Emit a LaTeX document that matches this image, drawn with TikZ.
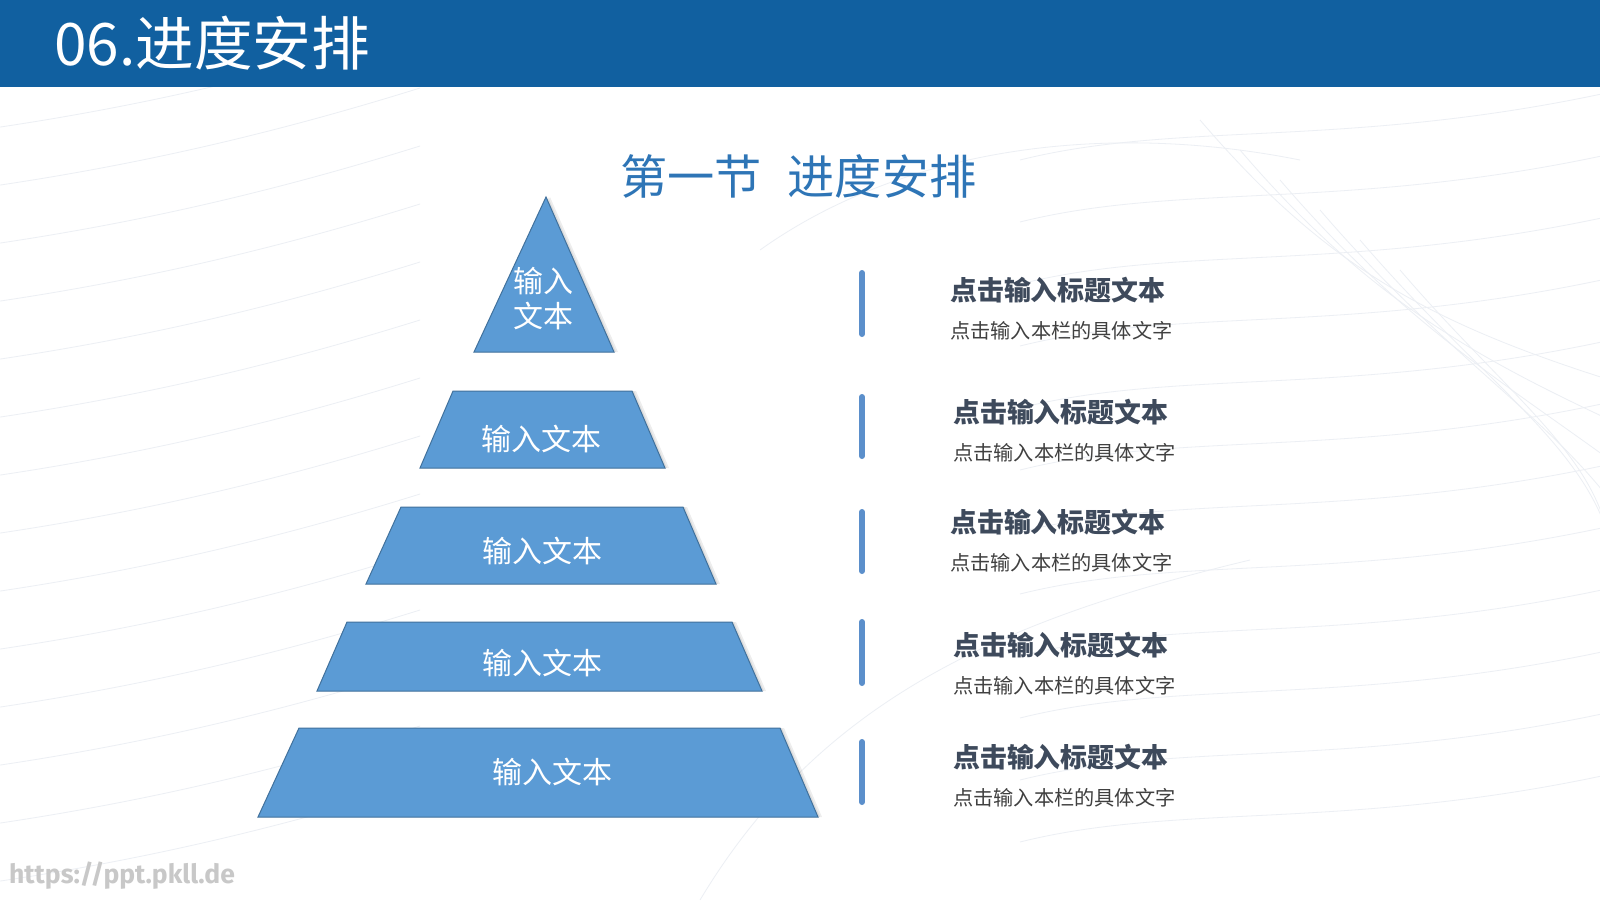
\documentclass[tikz,border=0pt]{standalone}
\usepackage{fontspec}
\newfontfamily\cjk{Noto Sans CJK SC}
\newfontfamily\wmfont{Fira Sans}
\newcommand\myfs[1]{\fontsize{#1}{#1}\selectfont}
\definecolor{headc}{RGB}{17,96,160}
\definecolor{subtitc}{RGB}{46,117,182}
\definecolor{pyfill}{RGB}{91,155,213}
\definecolor{pyedge}{RGB}{65,113,156}
\definecolor{barc}{RGB}{91,143,203}
\definecolor{headtxt}{RGB}{62,74,92}
\definecolor{subtxt}{RGB}{64,64,64}
\definecolor{leafc}{RGB}{236,239,244}
\definecolor{wmc}{RGB}{200,200,200}
\tikzset{
  tier/.style={fill=pyfill, draw=pyedge, line width=1pt, line join=miter},
  tiershadow/.style={fill=black, opacity=0.07},
  tiertext/.style={text=white, font=\cjk\myfs{30}, inner sep=0pt},
  barline/.style={draw=barc, line width=6pt, line cap=round},
  headtext/.style={anchor=west, inner sep=0pt, text=headtxt, font=\cjk\bfseries\myfs{26.9}},
  subtext/.style={anchor=west, inner sep=0pt, text=subtxt, font=\cjk\myfs{20.2}},
  leaf/.style={draw=leafc, line width=0.8pt}
}
\begin{document}
\begin{tikzpicture}[x=1pt,y=-1pt]
\useasboundingbox (0,0) rectangle (1600,900);
\fill[white] (0,0) rectangle (1600,900);
% faint leaf pattern
\foreach \i in {0,...,13}{
  \draw[leaf] (-20,{130+\i*58}) .. controls (120,{110+\i*58}) and (260,{80+\i*58}) .. (420,{30+\i*58});
}
\foreach \i in {0,...,11}{
  \draw[leaf] (1020,{160+\i*62}) .. controls (1180,{120+\i*62}) and (1350,{150+\i*62}) .. (1620,{90+\i*62});
}
\foreach \i in {0,...,5}{
  \draw[leaf] ({1200+\i*40},{120+\i*30}) .. controls ({1320+\i*40},{260+\i*30}) and ({1420+\i*40},{320+\i*30}) .. ({1610},{380+\i*40});
}
\draw[leaf] (700,900) .. controls (820,700) and (1000,620) .. (1250,560);
\draw[leaf] (760,250) .. controls (900,150) and (1100,120) .. (1300,160);
% header
\fill[headc] (0,0) rectangle (1600,87);
\node[anchor=west, inner sep=0pt, text=white, font=\cjk\myfs{58.6}] (title) at (54,43) {06.进度安排};
% subtitle
\node[anchor=west, inner sep=0pt, text=subtitc, font=\cjk\myfs{47.2}] (subtitle) at (620,176) {第一节\hspace{26pt}进度安排};
% pyramid shadows
\begin{scope}[xshift=4pt]
\fill[tiershadow] (546,197) -- (614,352) -- (474,352) -- cycle;
\fill[tiershadow] (453,391) -- (632,391) -- (665,468) -- (420,468) -- cycle;
\fill[tiershadow] (401,507) -- (683,507) -- (716,584) -- (366,584) -- cycle;
\fill[tiershadow] (347,622) -- (732,622) -- (762,691) -- (317,691) -- cycle;
\fill[tiershadow] (299,728) -- (780,728) -- (818,817) -- (258,817) -- cycle;
\end{scope}
\begin{scope}[xshift=2pt]
\fill[tiershadow] (546,197) -- (614,352) -- (474,352) -- cycle;
\fill[tiershadow] (453,391) -- (632,391) -- (665,468) -- (420,468) -- cycle;
\fill[tiershadow] (401,507) -- (683,507) -- (716,584) -- (366,584) -- cycle;
\fill[tiershadow] (347,622) -- (732,622) -- (762,691) -- (317,691) -- cycle;
\fill[tiershadow] (299,728) -- (780,728) -- (818,817) -- (258,817) -- cycle;
\end{scope}
% pyramid tiers
\draw[tier] (546,197) -- (614,352) -- (474,352) -- cycle;
\draw[tier] (453,391) -- (632,391) -- (665,468) -- (420,468) -- cycle;
\draw[tier] (401,507) -- (683,507) -- (716,584) -- (366,584) -- cycle;
\draw[tier] (347,622) -- (732,622) -- (762,691) -- (317,691) -- cycle;
\draw[tier] (299,728) -- (780,728) -- (818,817) -- (258,817) -- cycle;
\node[tiertext, align=left, font=\cjk\fontsize{30}{35}\selectfont] (t1) at (543,299) {输入\\文本};
\node[tiertext] (t2) at (541,439) {输入文本};
\node[tiertext] (t3) at (542,551) {输入文本};
\node[tiertext] (t4) at (542,663) {输入文本};
\node[tiertext] (t5) at (552,772) {输入文本};
% bars
\draw[barline] (862,273) -- (862,334);
\draw[barline] (862,397) -- (862,456);
\draw[barline] (862,512) -- (862,571);
\draw[barline] (862,622) -- (862,683);
\draw[barline] (862,742) -- (862,802);
% texts
\node[headtext] (h1) at (950,290) {点击输入标题文本};
\node[subtext] (s1) at (950,331) {点击输入本栏的具体文字};
\node[headtext] (h2) at (953,412) {点击输入标题文本};
\node[subtext] (s2) at (953,453) {点击输入本栏的具体文字};
\node[headtext] (h3) at (950,522) {点击输入标题文本};
\node[subtext] (s3) at (950,563) {点击输入本栏的具体文字};
\node[headtext] (h4) at (953,645) {点击输入标题文本};
\node[subtext] (s4) at (953,686) {点击输入本栏的具体文字};
\node[headtext] (h5) at (953,757) {点击输入标题文本};
\node[subtext] (s5) at (953,798) {点击输入本栏的具体文字};
% watermark
\node[anchor=west, inner sep=0pt, text=wmc, font=\wmfont\bfseries\myfs{26.5}] (wm) at (9,876) {https://ppt.pkll.de};
\end{tikzpicture}
\end{document}
